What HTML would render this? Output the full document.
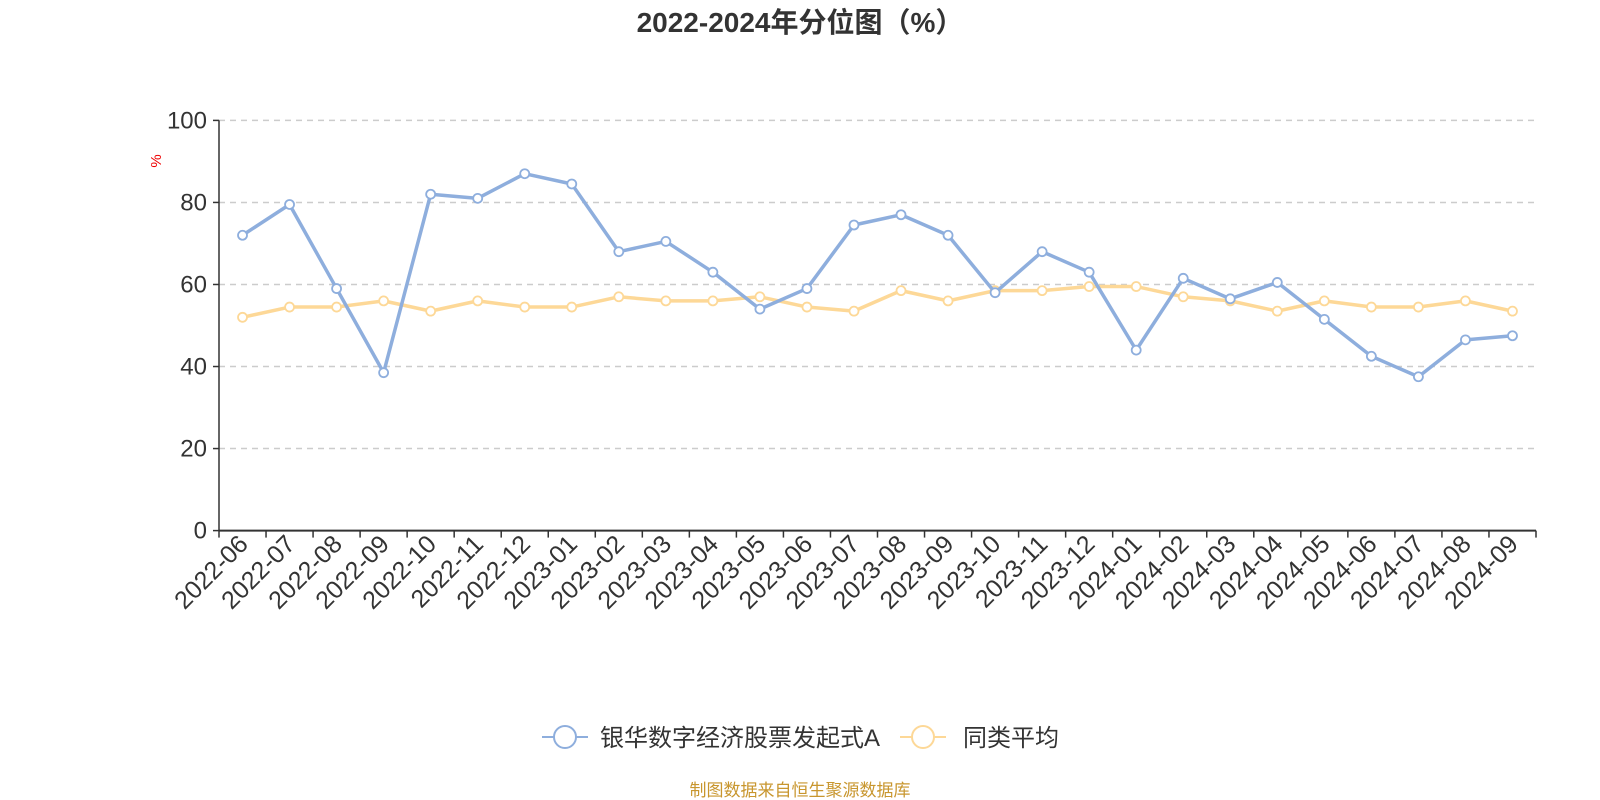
<!DOCTYPE html>
<html><head><meta charset="utf-8">
<style>
html,body{margin:0;padding:0;background:#fff;}
svg{display:block;font-family:"Liberation Sans","Noto Sans CJK SC",sans-serif;}
</style></head>
<body>
<svg id="chart" width="1600" height="800" viewBox="0 0 1600 800">
<text x="800" y="32" text-anchor="middle" font-size="28" font-weight="bold" fill="#333">2022-2024年分位图（%）</text>
<text transform="translate(161,161) rotate(-90)" text-anchor="middle" font-size="15" fill="#e00">%</text>
<g id="grid"></g><g id="axes"></g><g id="series"></g>
<g>
 <g>
  <line x1="542" y1="737" x2="588" y2="737" stroke="#8eaedd" stroke-width="2"/>
  <circle cx="565" cy="737" r="11" fill="#fff" stroke="#8eaedd" stroke-width="2"/>
  <text x="600" y="746" font-size="24" fill="#333">银华数字经济股票发起式A</text>
 </g>
 <g>
  <line x1="900" y1="737" x2="946" y2="737" stroke="#fdd897" stroke-width="2"/>
  <circle cx="923" cy="737" r="11" fill="#fff" stroke="#fdd897" stroke-width="2"/>
  <text x="963" y="746" font-size="24" fill="#333">同类平均</text>
 </g>
</g>
<text x="800" y="796" text-anchor="middle" font-size="17" fill="#c8962e">制图数据来自恒生聚源数据库</text>
</svg>
<script>
const categories = ["2022-06","2022-07","2022-08","2022-09","2022-10","2022-11","2022-12","2023-01","2023-02","2023-03","2023-04","2023-05","2023-06","2023-07","2023-08","2023-09","2023-10","2023-11","2023-12","2024-01","2024-02","2024-03","2024-04","2024-05","2024-06","2024-07","2024-08","2024-09"];
const fundValues = [72,79.5,59,38.5,82,81,87,84.5,68,70.5,63,54,59,74.5,77,72,58,68,63,44,61.5,56.5,60.5,51.5,42.5,37.5,46.5,47.5];
const avgValues = [52,54.5,54.5,56,53.5,56,54.5,54.5,57,56,56,57,54.5,53.5,58.5,56,58.5,58.5,59.5,59.5,57,56,53.5,56,54.5,54.5,56,53.5];
const yTicks = [0,20,40,60,80,100];

const NS="http://www.w3.org/2000/svg";
const L=219,R=1536,T=120.4,B=530.6;
const band=(R-L)/categories.length;
const xPos=i=>L+band*(i+0.5);
const yPos=v=>B-(v/100)*(B-T);
function mk(tag,attrs,parent){const e=document.createElementNS(NS,tag);for(const k in attrs)e.setAttribute(k,attrs[k]);parent.appendChild(e);return e;}
const grid=document.getElementById('grid'),axes=document.getElementById('axes'),series=document.getElementById('series');

yTicks.forEach(v=>{
  const y=yPos(v);
  if(v>0){const g=mk('line',{x1:L,x2:R,y1:y,y2:y,stroke:'#ccc','stroke-width':1.5,'stroke-dasharray':'6,5'},grid);
  
  }
  const tk=mk('line',{x1:L-6,x2:L,y1:y,y2:y,stroke:'#333','stroke-width':1.5},axes);
  
  
  const t=mk('text',{x:L-12,y:y+8,'text-anchor':'end','font-size':24,fill:'#333'},axes);
  t.textContent=v;
  
  
});
const ya=mk('line',{x1:L,x2:L,y1:T,y2:B,stroke:'#333','stroke-width':1.5},axes);


const xa=mk('line',{x1:L,x2:R,y1:B,y2:B,stroke:'#333','stroke-width':2},axes);


for(let i=0;i<=categories.length;i++){
  const x=L+band*i;
  const tk=mk('line',{x1:x,x2:x,y1:B,y2:B+7,stroke:'#333','stroke-width':1.5},axes);
  
  
}
categories.forEach((c,i)=>{
  const x=xPos(i);
  const t=mk('text',{transform:`translate(${x+7},${B+15}) rotate(-45)`,'text-anchor':'end','font-size':25,fill:'#333'},axes);
  t.textContent=c;
  
  
});
function drawSeries(vals,color,name){
  const g=mk('g',{},series);
  
  
  const pl=mk('polyline',{points:vals.map((v,i)=>xPos(i)+','+yPos(v)).join(' '),fill:'none',stroke:color,'stroke-width':3.5,'stroke-linejoin':'round'},g);
  
  
  vals.forEach((v,i)=>{
    const c=mk('circle',{cx:xPos(i),cy:yPos(v),r:4.5,fill:'#fff',stroke:color,'stroke-width':1.8},g);
    
    
  });
}
drawSeries(avgValues,'#fdd897','average-series');
drawSeries(fundValues,'#8eaedd','fund-series');
</script>
</body></html>
